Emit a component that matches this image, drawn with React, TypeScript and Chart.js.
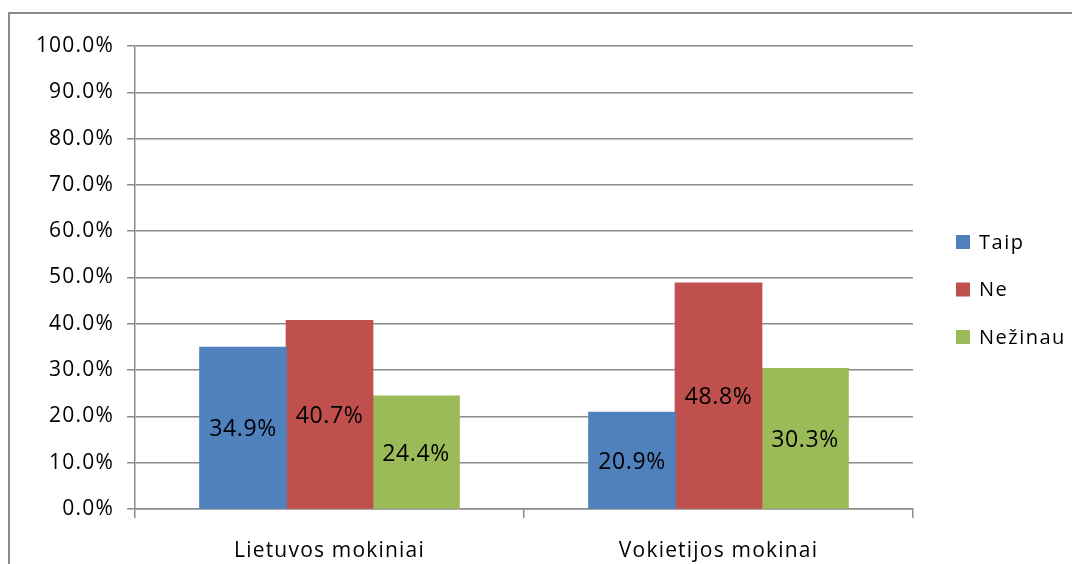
import React, { useEffect, useRef } from 'react';
import { Chart, registerables } from 'chart.js';

Chart.register(...registerables);

const categories = ['Lietuvos mokiniai', 'Vokietijos mokinai'];
const seriesNames = ['Taip', 'Ne', 'Nežinau'];
const taipValues = [34.9, 20.9];
const neValues = [40.7, 48.8];
const nezinauValues = [24.4, 30.3];
const seriesColors = ['#4F81BD', '#C0504D', '#9BBB59'];
const yMin = 0;
const yMax = 100;
const yStep = 10;

const FONT = "'Open Sans', 'DejaVu Sans', sans-serif";
const AXIS_GRAY = '#8c8c8c';

const letterSpacingPlugin = {
  id: 'letterSpacing',
  beforeDraw(chart: any) {
    (chart.ctx as any).letterSpacing = '1.2px';
  },
};

const dataLabelsPlugin = {
  id: 'dataLabels',
  afterDatasetsDraw(chart: any) {
    const ctx = chart.ctx;
    ctx.save();
    (ctx as any).letterSpacing = '0.6px';
    ctx.font = `23px ${FONT}`;
    ctx.fillStyle = '#000000';
    ctx.textAlign = 'center';
    ctx.textBaseline = 'middle';
    chart.data.datasets.forEach((ds: any, di: number) => {
      const meta = chart.getDatasetMeta(di);
      meta.data.forEach((el: any, i: number) => {
        const v = ds.data[i] as number;
        const y = (el.y + el.base) / 2 + 2;
        ctx.fillText(v.toFixed(1) + '%', el.x, y);
      });
    });
    ctx.restore();
  },
};

const sideLegendPlugin = {
  id: 'sideLegend',
  afterDraw(chart: any) {
    const ctx = chart.ctx;
    const area = chart.chartArea;
    ctx.save();
    (ctx as any).letterSpacing = '1.5px';
    ctx.font = `20px ${FONT}`;
    ctx.textBaseline = 'middle';
    ctx.textAlign = 'left';
    const x0 = area.right + 43;
    const y0 = area.top + 196;
    const gap = 47.5;
    chart.data.datasets.forEach((ds: any, i: number) => {
      const cy = y0 + i * gap;
      ctx.fillStyle = ds.backgroundColor;
      ctx.fillRect(x0, cy - 7, 14, 14);
      ctx.fillStyle = '#000000';
      ctx.fillText(ds.label, x0 + 23, cy + 1);
    });
    ctx.restore();
  },
};

export default function App() {
  const canvasRef = useRef<HTMLCanvasElement | null>(null);

  useEffect(() => {
    if (!canvasRef.current) return;
    const seriesValues = [taipValues, neValues, nezinauValues];
    const chart = new Chart(canvasRef.current, {
      type: 'bar',
      data: {
        labels: categories,
        datasets: seriesNames.map((name, i) => ({
          label: name,
          data: seriesValues[i],
          backgroundColor: seriesColors[i],
          borderWidth: 0,
          inflateAmount: 0.6,
          categoryPercentage: 0.667,
          barPercentage: 1.0,
        })),
      },
      options: {
        responsive: false,
        animation: false,
        devicePixelRatio: 1,
        layout: { padding: { top: 46, right: 159, bottom: 0, left: 0 } },
        plugins: {
          legend: { display: false },
          tooltip: { enabled: false },
          title: { display: false },
        },
        scales: {
          x: {
            grid: {
              display: true,
              drawOnChartArea: false,
              drawTicks: true,
              tickLength: 9,
              color: AXIS_GRAY,
              lineWidth: 1.5,
              offset: true,
            },
            border: { display: true, color: AXIS_GRAY, width: 1.5 },
            ticks: {
              color: '#000000',
              font: { family: FONT, size: 21 },
              padding: 20,
            },
            afterFit(scale: any) {
              scale.height = 55;
            },
          },
          y: {
            min: yMin,
            max: yMax,
            grid: {
              color: AXIS_GRAY,
              lineWidth: 1.5,
              drawTicks: true,
              tickLength: 8,
            },
            border: { display: true, color: AXIS_GRAY, width: 1.5 },
            ticks: {
              stepSize: yStep,
              color: '#000000',
              font: { family: FONT, size: 21 },
              padding: 13,
              callback: (v: any) => Number(v).toFixed(1) + '%',
            },
            afterFit(scale: any) {
              scale.width = 135;
            },
          },
        },
      },
      plugins: [letterSpacingPlugin, dataLabelsPlugin, sideLegendPlugin],
    } as any);
    return () => chart.destroy();
  }, []);

  return (
    <div style={{ position: 'absolute', left: 0, top: 0, width: 1072, height: 564, overflow: 'hidden', background: '#ffffff' }}>
      <div
        style={{
          position: 'absolute',
          left: 8,
          top: 12,
          width: 1064,
          height: 552,
          boxSizing: 'border-box',
          borderLeft: '2px solid #8a8a8a',
          borderTop: '2px solid #8a8a8a',
        }}
      />
      <canvas
        ref={canvasRef}
        width={1072}
        height={564}
        style={{ position: 'absolute', left: 0, top: 0, width: 1072, height: 564 }}
      />
    </div>
  );
}
